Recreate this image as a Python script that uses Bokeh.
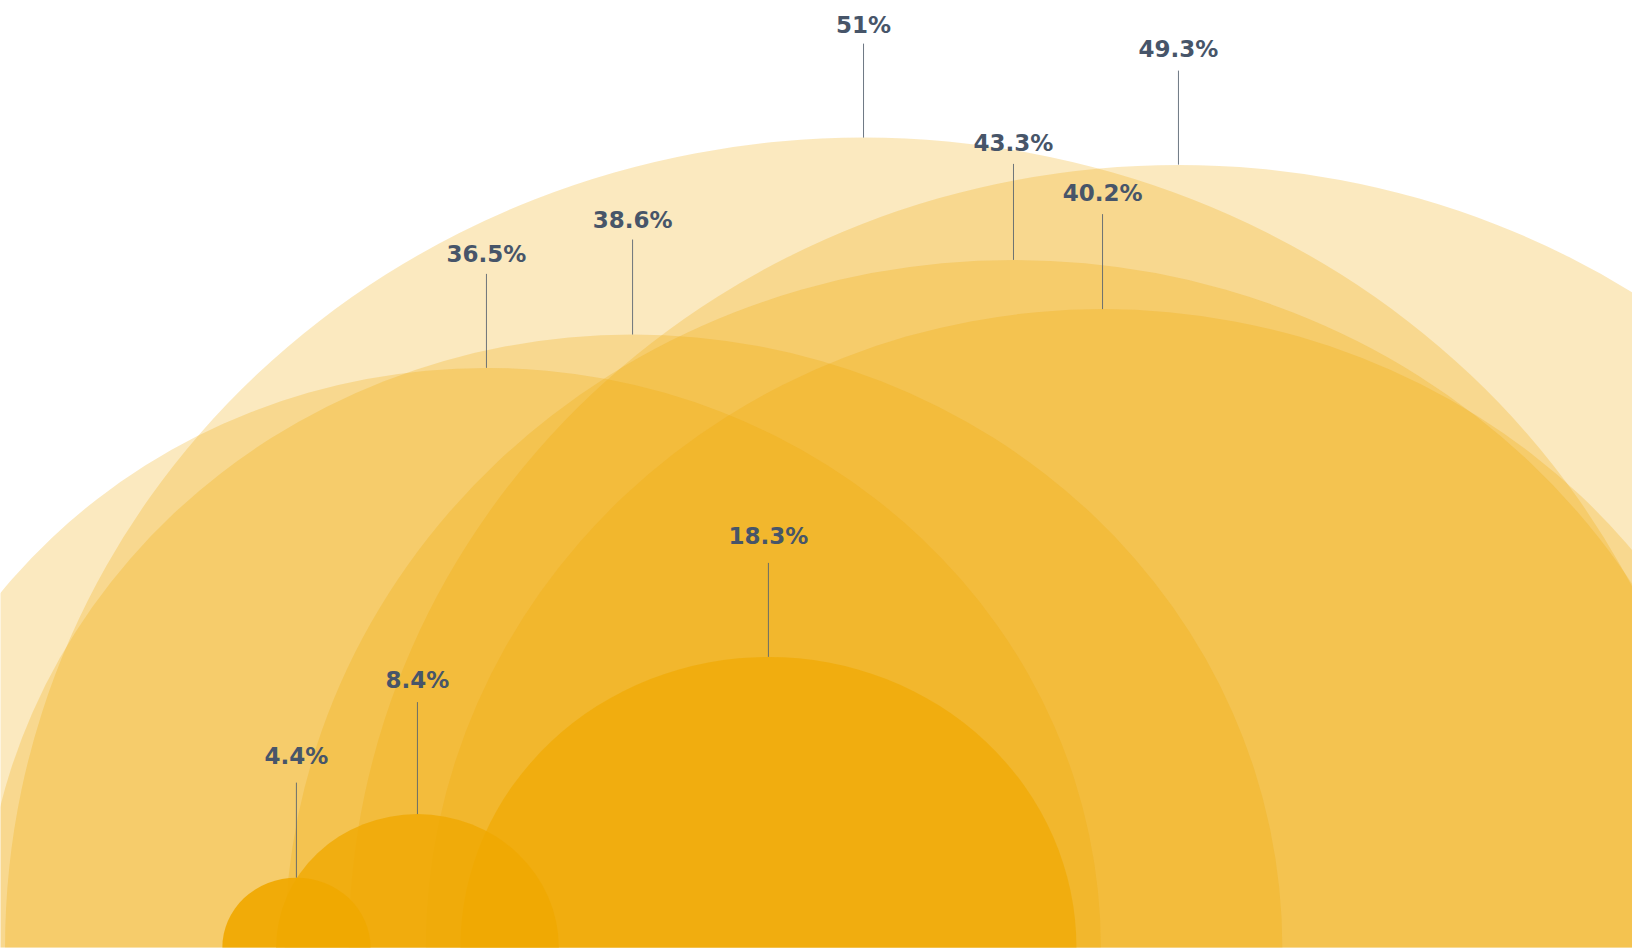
from bokeh.plotting import figure
from bokeh.models import ColumnDataSource, Range1d
from bokeh.core.properties import value
from bokeh.embed import file_html
from bokeh.resources import INLINE

# ---- data (drawn largest first so smaller circles sit on top) ----
labels = ["51%", "49.3%", "43.3%", "40.2%", "38.6%", "36.5%", "18.3%", "8.4%", "4.4%"]
values = [51.0, 49.3, 43.3, 40.2, 38.6, 36.5, 18.3, 8.4, 4.4]
x_pos = [51.27, 69.98, 60.18, 65.47, 37.55, 28.87, 45.62, 24.77, 17.58]

# ---- styling / layout ----
K = 15.88            # px per unit vertically
XK = 1.06 * K        # px per unit horizontally (chart is slightly stretched)
W, H = 1632, 949
BASE_PAD = 2
fill_alpha = [0.25, 0.25, 0.25, 0.25, 0.25, 0.25, 0.66, 0.78, 0.92]
leader_px = [94, 94, 96, 95, 95, 94, 94, 112, 95]
gap_px = [19, 22, 21, 21, 20, 20, 27, 22, 27]

src = ColumnDataSource(dict(
    x=x_pos,
    v=values,
    d=[2 * v for v in values],
    alpha=fill_alpha,
    top=[v + l / K for v, l in zip(values, leader_px)],
    ty=[v + (l + g) / K for v, l, g in zip(values, leader_px, gap_px)],
    label=labels,
))

p = figure(width=W, height=H,
           x_range=Range1d(0, W / XK), y_range=Range1d(0, (H - BASE_PAD) / K),
           output_backend="svg", toolbar_location=None,
           x_axis_location=None, y_axis_location=None,
           min_border_left=0, min_border_right=0, min_border_top=0,
           min_border_bottom=BASE_PAD)
p.grid.visible = False
p.outline_line_color = None
p.background_fill_color = "white"
p.border_fill_color = "white"

p.ellipse(x="x", y=0, width="d", height="d", source=src,
          fill_color="#F0A800", fill_alpha="alpha", line_color=None)

p.segment(x0="x", y0="v", x1="x", y1="top", source=src,
          line_color="#55606e", line_width=1, line_alpha=0.85)

p.text(x="x", y="ty", text="label", source=src,
       text_align="center", text_baseline="middle",
       text_font=value("DejaVu Sans"), text_font_style="bold",
       text_font_size="23px", text_color="#475569")

open("out.html", "w").write(file_html(p, INLINE))
